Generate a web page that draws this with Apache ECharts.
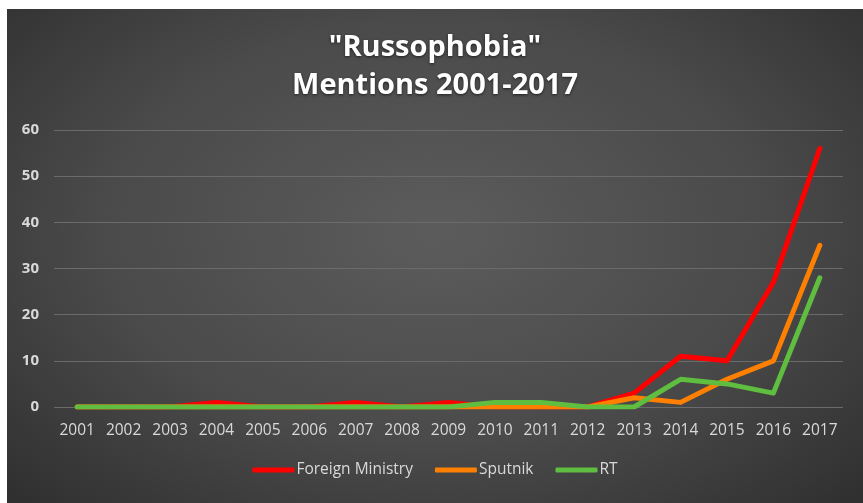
<!DOCTYPE html>
<html>
<head>
<meta charset="utf-8">
<script src="https://cdn.jsdelivr.net/npm/echarts@6/dist/echarts.min.js"></script>
<style>
  html, body { margin: 0; padding: 0; background: #ffffff; }
  #wrap {
    position: absolute; left: 7px; top: 9px; width: 856px; height: 494px;
    background: radial-gradient(ellipse at 50% 45%, #5c5c5c 0%, #4a4a4a 55%, #2f2f2f 100%);
  }
  #main { width: 856px; height: 494px; }
</style>
</head>
<body>
<div id="wrap"><div id="main"></div></div>
<script>
var years = ['2001','2002','2003','2004','2005','2006','2007','2008','2009','2010','2011','2012','2013','2014','2015','2016','2017'];
var foreignMinistry = [0, 0, 0, 1, 0, 0, 1, 0, 1, 0, 0, 0, 3, 11, 10, 27, 56];
var sputnik = [0, 0, 0, 0, 0, 0, 0, 0, 0, 0, 0, 0, 2, 1, 6, 10, 35];
var rt = [0, 0, 0, 0, 0, 0, 0, 0, 0, 1, 1, 0, 0, 6, 5, 3, 28];

function drawRussophobiaChart(){
    var myChart = echarts.init(document.getElementById('main'));
    var option = {
        backgroundColor: 'transparent',
        title: {
            text: '"Russophobia"\nMentions 2001-2017',
            left: 'center',
            top: 15,
            textStyle: {
                color: '#ffffff',
                fontFamily: 'Open Sans',
                fontWeight: 'bold',
                fontSize: 29,
                lineHeight: 38,
                textShadowColor: 'rgba(0,0,0,0.6)',
                textShadowBlur: 3,
                textShadowOffsetY: 1
            }
        },
        legend: {
            data: ['Foreign Ministry', 'Sputnik', 'RT'],
            bottom: 20,
            left: 'center',
            icon: 'roundRect',
            itemWidth: 42,
            itemHeight: 5,
            itemGap: 22,
            textStyle: {
                color: '#d9d9d9',
                fontFamily: 'Open Sans',
                fontSize: 15.5,
                padding: [0, 0, 0, -3]
            }
        },
        grid: {
            left: 47,
            right: 20,
            top: 121,
            bottom: 96
        },
        xAxis: {
            type: 'category',
            boundaryGap: true,
            data: years,
            axisLine: { show: false },
            axisTick: { show: false },
            axisLabel: {
                interval: 0,
                color: '#d9d9d9',
                fontFamily: 'Open Sans',
                fontSize: 15.5,
                margin: 16
            }
        },
        yAxis: {
            type: 'value',
            min: 0,
            max: 60,
            interval: 10,
            axisLine: { show: false },
            axisTick: { show: false },
            splitLine: { lineStyle: { color: '#6b6b6b', width: 1 } },
            axisLabel: {
                color: '#d9d9d9',
                fontFamily: 'Open Sans',
                fontWeight: 'bold',
                fontSize: 15,
                margin: 15
            }
        },
        series: [
            {
                name: 'Foreign Ministry',
                type: 'line',
                data: foreignMinistry,
                showSymbol: false,
                color: '#ff0000',
                lineStyle: { width: 5, cap: 'round', join: 'round' }
            },
            {
                name: 'Sputnik',
                type: 'line',
                data: sputnik,
                showSymbol: false,
                color: '#ff8000',
                lineStyle: { width: 5, cap: 'round', join: 'round' }
            },
            {
                name: 'RT',
                type: 'line',
                data: rt,
                showSymbol: false,
                color: '#5fbd3f',
                lineStyle: { width: 5, cap: 'round', join: 'round' }
            }
        ]
    };
    myChart.setOption(option);
}
drawRussophobiaChart();
</script>
</body>
</html>
